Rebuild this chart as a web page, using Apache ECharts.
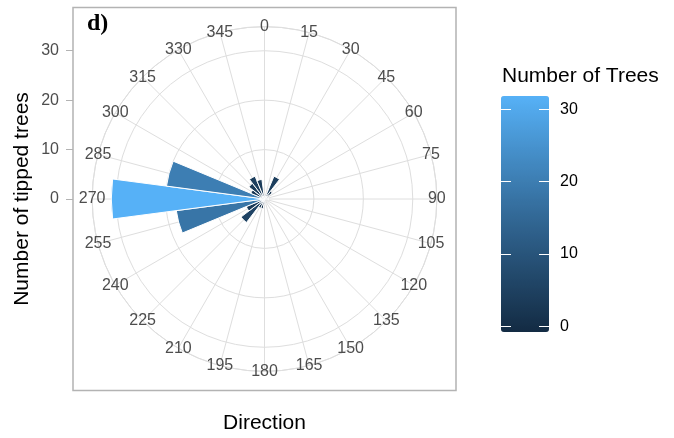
<!DOCTYPE html>
<html>
<head>
<meta charset="utf-8">
<script src="https://cdn.jsdelivr.net/npm/echarts@6/dist/echarts.min.js"></script>
<style>
  html, body { margin: 0; padding: 0; background: #ffffff; }
  #chart { width: 674px; height: 438px; }
</style>
</head>
<body>
<div id="chart"></div>
<script>
// Compass direction of each 15-degree bin (bin centre, degrees)
const directions = [0, 15, 30, 45, 60, 75, 90, 105, 120, 135, 150, 165,
                    180, 195, 210, 225, 240, 255, 270, 285, 300, 315, 330, 345];
// Number of tipped trees falling in each direction bin
const treeCounts = [1, 1, 5, 2, 1, 0, 1, 0, 0, 0, 0, 0,
                    1, 2, 2, 6, 4, 18, 31, 20, 3, 4, 5, 4];
// Tick labels: direction ring, radial count axis, colour bar
const directionTicks = [0, 15, 30, 45, 60, 75, 90, 105, 120, 135, 150, 165,
                        180, 195, 210, 225, 240, 255, 270, 285, 300, 315, 330, 345];
const radialTicks = [0, 10, 20, 30];
const colourTicks = [0, 10, 20, 30];
// Fill scale limits and gradient (dark navy to light blue)
const fillLimits = [0, 31];
const fillColours = ['#132B43', '#234A6D', '#336A98', '#448DC7', '#56B1F7'];

const FONT = '"Liberation Sans", Arial, Helvetica, sans-serif';
const GRID_GREY = '#DEDEDE';
const BORDER_GREY = '#B3B3B3';
const TEXT_GREY = '#4D4D4D';

// Panel geometry: square panel, data radius = 0.4 of panel, outer ring = 0.45
const panel = { x: 73, y: 7.5, size: 383 };
const cx = panel.x + panel.size / 2;
const cy = panel.y + panel.size / 2;
const dataRadius = 0.4 * panel.size;
const outerRadius = 0.45 * panel.size;
const countMax = Math.max(...treeCounts);
const radiusAxisMax = countMax * outerRadius / dataRadius;
const radialTop = radialTicks[radialTicks.length - 1];
const colourTop = colourTicks[colourTicks.length - 1];

const step = radialTicks[1] - radialTicks[0];
const colourStep = colourTicks[1] - colourTicks[0];

// Colour bar: ticks sit half a bin (of 20) inside the bar ends
const bar = { x: 501, y: 96, w: 48, h: 236 };
const barPad = bar.h / 40;
const colourPx = (bar.h - 2 * barPad) / (fillLimits[1] - fillLimits[0]);

const chart = echarts.init(document.getElementById('chart'), null, { renderer: 'canvas' });

chart.setOption({
  animation: false,
  backgroundColor: '#ffffff',
  textStyle: { fontFamily: FONT },
  polar: { center: [cx, cy], radius: [0, outerRadius] },
  angleAxis: {
    type: 'value',
    min: 0,
    max: 360,
    interval: 15,
    startAngle: 90,
    clockwise: true,
    axisLine: { show: true, lineStyle: { color: GRID_GREY, width: 1 } },
    axisTick: { show: false },
    axisLabel: { show: false },
    splitLine: { show: true, lineStyle: { color: GRID_GREY, width: 1 } }
  },
  radiusAxis: {
    type: 'value',
    min: 0,
    max: radiusAxisMax,
    interval: step,
    axisLine: { show: false },
    axisTick: { show: false },
    axisLabel: { show: false },
    splitLine: { show: true, lineStyle: { color: GRID_GREY, width: 1 } }
  },
  grid: [
    // radial count axis shown on the left edge of the panel
    { left: panel.x, top: cy - dataRadius * radialTop / countMax, width: 1,
      height: dataRadius * radialTop / countMax, show: false },
    // colour bar ticks and labels
    { left: bar.x, top: bar.y + bar.h - barPad - colourTop * colourPx, width: bar.w,
      height: colourTop * colourPx, show: false }
  ],
  xAxis: [
    { gridIndex: 0, type: 'value', show: false },
    { gridIndex: 1, type: 'value', show: false }
  ],
  yAxis: [
    {
      gridIndex: 0, type: 'value', position: 'left',
      min: 0, max: radialTop, interval: step,
      axisLine: { show: false },
      axisTick: { show: true, inside: false, length: 7, lineStyle: { color: BORDER_GREY, width: 1 } },
      axisLabel: { color: TEXT_GREY, fontSize: 16, fontFamily: FONT, margin: 14 },
      splitLine: { show: false }
    },
    {
      gridIndex: 1, type: 'value', position: 'left', z: 10,
      min: fillLimits[0], max: colourTop, interval: colourStep,
      axisLine: { show: false },
      axisTick: { show: true, inside: true, length: 10, lineStyle: { color: '#ffffff', width: 1 } },
      axisLabel: { show: false },
      splitLine: { show: false }
    },
    {
      gridIndex: 1, type: 'value', position: 'right', z: 10,
      min: fillLimits[0], max: colourTop, interval: colourStep,
      axisLine: { show: false },
      axisTick: { show: true, inside: true, length: 10, lineStyle: { color: '#ffffff', width: 1 } },
      axisLabel: { color: '#000000', fontSize: 16, fontFamily: FONT, margin: 11 },
      splitLine: { show: false }
    }
  ],
  visualMap: {
    type: 'continuous',
    seriesIndex: 0,
    dimension: 0,
    min: fillLimits[0],
    max: fillLimits[1],
    inRange: { color: fillColours },
    calculable: false,
    left: bar.x,
    top: bar.y,
    itemWidth: bar.w,
    itemHeight: bar.h,
    padding: 0,
    z: 4
  },
  series: [
    {
      type: 'bar',
      coordinateSystem: 'polar',
      data: directions.map((d, i) => [treeCounts[i], d]),
      barWidth: '100%',
      itemStyle: { borderColor: '#ffffff', borderWidth: 1 },
      z: 3
    },
    {
      // direction labels centred on the outer ring
      type: 'scatter',
      coordinateSystem: 'polar',
      data: directionTicks.map(d => [radiusAxisMax, d]),
      symbolSize: 0,
      clip: false,
      silent: true,
      z: 5,
      itemStyle: { opacity: 1 },
      label: {
        show: true,
        position: [0, 0],
        align: 'center',
        verticalAlign: 'middle',
        opacity: 1,
        color: TEXT_GREY,
        fontSize: 16,
        fontFamily: FONT,
        formatter: p => String(p.value[1])
      }
    }
  ],
  graphic: [
    {
      type: 'rect', silent: true, z: 20,
      shape: { x: panel.x, y: panel.y, width: panel.size, height: panel.size },
      style: { fill: 'none', stroke: BORDER_GREY, lineWidth: 1.5 }
    },
    {
      type: 'text', x: 87, y: 24, z: 20,
      style: { text: 'd)', fontSize: 24, fontWeight: 'bold', fontFamily: '"Liberation Serif", "Times New Roman", serif',
               fill: '#000000', align: 'left', verticalAlign: 'middle' }
    },
    {
      type: 'text', x: cx, y: 423, z: 20,
      style: { text: 'Direction', fontSize: 21, fontFamily: FONT, fill: '#000000', align: 'center', verticalAlign: 'middle' }
    },
    {
      type: 'text', x: 22.5, y: cy, rotation: Math.PI / 2, z: 20,
      style: { text: 'Number of tipped trees', fontSize: 21, fontFamily: FONT, fill: '#000000', align: 'center', verticalAlign: 'middle' }
    },
    {
      type: 'text', x: bar.x + 1, y: 76, z: 20,
      style: { text: 'Number of Trees', fontSize: 21, fontFamily: FONT, fill: '#000000', align: 'left', verticalAlign: 'middle' }
    }
  ]
});
</script>
</body>
</html>
